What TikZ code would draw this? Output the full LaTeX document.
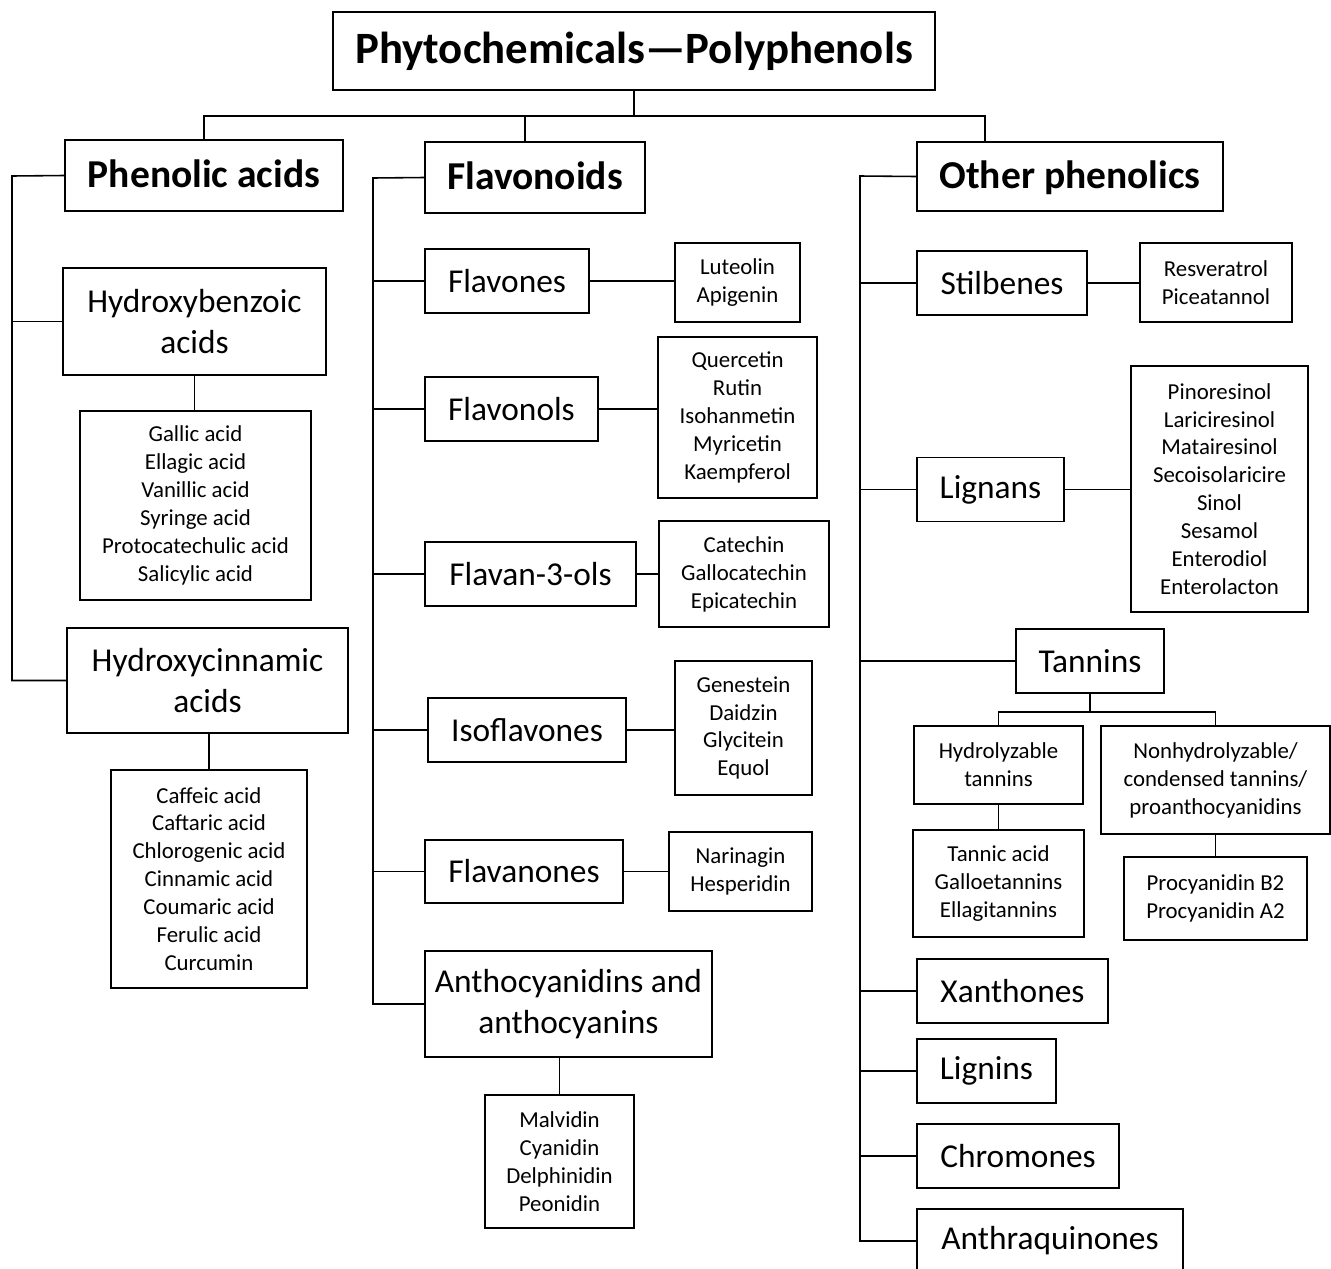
\documentclass[tikz,border=0pt]{standalone}
\usepackage{fontspec}
\setmainfont{Carlito}
\usetikzlibrary{positioning,calc}

\begin{document}
\begin{tikzpicture}[x=0.02cm,y=-0.02cm,line width=0.9pt,
	box/.style={draw,inner sep=0pt,align=center},
	sz/.style 2 args={minimum width=#1*0.02cm,minimum height=#2*0.02cm},
	toptitle/.style={box,font=\fontsize{25.5}{30}\selectfont\bfseries},
	group/.style={box,text height=15pt,text depth=0.8pt,font=\fontsize{22.5}{27}\selectfont\bfseries},
	family/.style={box,font=\fontsize{19}{23.2}\selectfont},
	members/.style={box,font=\fontsize{13}{15.9}\selectfont}]
	
	\useasboundingbox (0,0) rectangle (1331,1268);
	
	% top level
	\node[toptitle, sz={602}{78}] (title) at (634,51) {Phytochemicals---Polyphenols};
	\node[group, sz={278}{71}] (phen) at (204,175.5) {Phenolic acids};
	\node[group, sz={220}{71}] (flav) at (535,177.5) {Flavonoids};
	\node[group, sz={306}{69}] (other) at (1070,176.5) {Other phenolics};
	
	% phenolic acids
	\node[family, sz={263}{107}] (hbenz) at (194.5,321.5) {Hydroxybenzoic\\acids};
	\node[members, sz={231}{189}] (hblist) at (195.5,505.5) {Gallic acid\\Ellagic acid\\Vanillic acid\\Syringe acid\\Protocatechulic acid\\Salicylic acid};
	\node[family, sz={281}{105}] (hcinn) at (207.5,680.5) {Hydroxycinnamic\\acids};
	\node[members, sz={196}{218}] (hclist) at (209,879) {Caffeic acid\\Caftaric acid\\Chlorogenic acid\\Cinnamic acid\\Coumaric acid\\Ferulic acid\\Curcumin};
	
	% flavonoids
	\node[family, sz={164}{64}] (flavones) at (507,281) {Flavones};
	\node[members, sz={125}{79}] (fnlist) at (737.5,282.5) {Luteolin\\Apigenin};
	\node[family, sz={173}{64}] (flavonols) at (511.5,409) {Flavonols};
	\node[members, sz={159}{161}] (folist) at (737.5,417.5) {Quercetin\\Rutin\\Isohanmetin\\Myricetin\\Kaempferol};
	\node[family, sz={211}{64}] (flavanols) at (530.5,574) {Flavan-3-ols};
	\node[members, sz={170}{106}] (falist) at (744,574) {Catechin\\Gallocatechin\\Epicatechin};
	\node[family, sz={198}{64}] (isofl) at (527,730) {Isoflavones};
	\node[members, sz={137}{134}] (isolist) at (743.5,728) {Genestein\\Daidzin\\Glycitein\\Equol};
	\node[family, sz={198}{63}] (flavan) at (524,871.5) {Flavanones};
	\node[members, sz={143}{79}] (fvlist) at (740.5,871.5) {Narinagin\\Hesperidin};
	\node[family, sz={287}{106}] (antho) at (568.5,1004) {Anthocyanidins and\\anthocyanins};
	\node[members, sz={149}{133}] (anlist) at (559.5,1161.5) {Malvidin\\Cyanidin\\Delphinidin\\Peonidin};
	
	% other phenolics
	\node[family, sz={170}{64}] (stilb) at (1002,283) {Stilbenes};
	\node[members, sz={152}{79}] (stlist) at (1216,282.5) {Resveratrol\\Piceatannol};
	\node[family, sz={147}{64}] (lignans) at (990.5,489.5) {Lignans};
	\node[members, sz={177}{246}] (lglist) at (1219.5,489) {Pinoresinol\\Lariciresinol\\Matairesinol\\Secoisolaricire\\Sinol\\Sesamol\\Enterodiol\\Enterolacton};
	\node[family, sz={148}{64}] (tannins) at (1090,661) {Tannins};
	\node[members, sz={169}{78}] (hydtan) at (998.5,765) {Hydrolyzable\\tannins};
	\node[members, sz={229}{108}] (nonhyd) at (1215.5,780) {Nonhydrolyzable/\\condensed tannins/\\proanthocyanidins};
	\node[members, sz={171}{107}] (htlist) at (998.5,883.5) {Tannic acid\\Galloetannins\\Ellagitannins};
	\node[members, sz={183}{83}] (nhlist) at (1215.5,898.5) {Procyanidin B2\\Procyanidin A2};
	\node[family, sz={191}{64}] (xanth) at (1012.5,991) {Xanthones};
	\node[family, sz={139}{64}] (lignins) at (986.5,1071) {Lignins};
	\node[family, sz={202}{64}] (chrom) at (1018,1156) {Chromones};
	\node[family, sz={266}{64}] (anthra) at (1050,1241) {Anthraquinones};
	
	% top connectors
	\coordinate (tj) at (630,116);
	\draw (title.south) -- (title.south |- tj);
	\draw (phen.north) |- ([xshift=-1.7cm]other.north |- tj) -- ([xshift=-1.7cm]other.north);
	\draw ([xshift=-0.2cm]flav.north) -- ([xshift=-0.2cm]flav.north |- tj);
	
	% phenolic acids bus
	\coordinate (pbus) at (12,176);
	\draw (phen.west) -- (pbus) |- (hcinn.west);
	\draw (pbus |- hbenz.west) -- (hbenz.west);
	\draw (hbenz.south) -- (hbenz.south |- hblist.north);
	\draw (hclist.north) -- (hclist.north |- hcinn.south);
	
	% flavonoids bus
	\coordinate (fbus) at (373,178);
	\draw (flav.west) -- (fbus) |- (antho.west);
	\foreach \n in {flavones,flavonols,flavanols,isofl,flavan}
		\draw (fbus |- \n.west) -- (\n.west);
	\foreach \a/\b in {flavones/fnlist,flavonols/folist,flavanols/falist,isofl/isolist,flavan/fvlist}
		\draw (\a.east) -- (\b.west |- \a.east);
	\draw (anlist.north) -- (anlist.north |- antho.south);
	
	% other phenolics bus
	\coordinate (obus) at (860,176);
	\draw (other.west) -- (obus) |- (anthra.west);
	\foreach \n in {stilb,lignans,tannins,xanth,lignins,chrom}
		\draw (obus |- \n.west) -- (\n.west);
	\foreach \a/\b in {stilb/stlist,lignans/lglist}
		\draw (\a.east) -- (\b.west |- \a.east);
	\draw (tannins.south) -- ++(0,18) coordinate (tj2);
	\draw (hydtan.north) |- (tj2) -| (nonhyd.north);
	\draw (hydtan.south) -- (hydtan.south |- htlist.north);
	\draw (nonhyd.south) -- (nonhyd.south |- nhlist.north);
\end{tikzpicture}
\end{document}
